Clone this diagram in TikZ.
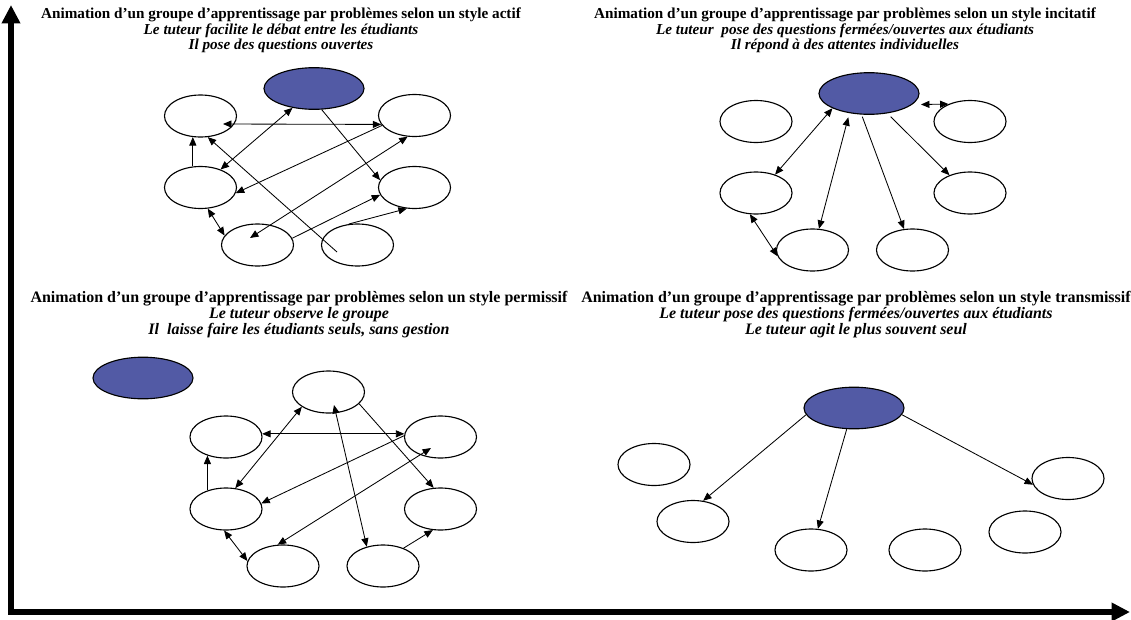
\documentclass[tikz,border=0pt]{standalone}
\usepackage{fontspec}
\setmainfont{Liberation Serif}
\usetikzlibrary{arrows.meta,shapes.geometric,calc}
\definecolor{tuteurbleu}{RGB}{82,90,165}
\tikzset{
  etudiant/.style={draw, ellipse, line width=0.8pt, minimum width=1.8cm, minimum height=1.05cm, inner sep=0pt},
  tuteur/.style={etudiant, fill=tuteurbleu, minimum width=2.5cm, minimum height=1.04cm},
  fleche/.style={line width=0.6pt},
  titrehaut/.style={align=center, inner sep=0pt, font=\bfseries\fontsize{10.8}{11}\selectfont},
  titrebas/.style={align=center, inner sep=0pt, font=\bfseries\fontsize{11.35}{11.4}\selectfont},
  axe/.style={line width=3.9pt, {Triangle[length=13pt,width=12.5pt]}-{Triangle[length=13pt,width=12.5pt]}}
}
\begin{document}
\begin{tikzpicture}[x=0.025cm, y=-0.025cm, >={Triangle[length=6pt,width=5pt]}]
    \useasboundingbox (0,0) rectangle (1131,619);

    \node[titrehaut] (titreactif) at (281,30.5) {Animation d’un groupe d’apprentissage par problèmes selon un style actif\\ \textit{Le tuteur facilite le débat entre les étudiants}\\ \textit{Il pose des questions ouvertes}};
    \node[titrehaut] (titreincitatif) at (845,30.5) {Animation d’un groupe d’apprentissage par problèmes selon un style incitatif\\ \textit{Le tuteur~ pose des questions fermées/ouvertes aux étudiants}\\ \textit{Il répond à des attentes individuelles}};
    \node[titrebas] (titrepermissif) at (299,315) {Animation d’un groupe d’apprentissage par problèmes selon un style permissif\\ \textit{Le tuteur observe le groupe}\\ \textit{Il~ laisse faire les étudiants seuls, sans gestion}};
    \node[titrebas] (titretransmissif) at (856,315) {Animation d’un groupe d’apprentissage par problèmes selon un style transmissif\\ \textit{Le tuteur pose des questions fermées/ouvertes aux étudiants}\\ \textit{Le tuteur agit le plus souvent seul}};

    \node[tuteur] (ta) at (314,88.5) {};
    \node[etudiant] (a1) at (200.5,116) {};
    \node[etudiant] (a2) at (414.5,115.5) {};
    \node[etudiant] (a3) at (200.5,187.5) {};
    \node[etudiant] (a4) at (414.5,187.5) {};
    \node[etudiant] (a5) at (257.5,245) {};
    \node[etudiant] (a6) at (357.5,245) {};

    \draw[fleche,<->] ($(a1)+(22.5,8)$) to (a2.195);
    \draw[fleche,<->] (ta.222) to (a3.42);
    \draw[fleche,->] (a2.197) to (a3.-9);
    \draw[fleche,->] (ta.290) to (a4.168);
    \draw[fleche,<->] ($(a5)+(-7.5,-7)$) to (a2.252);
    \draw[fleche,->] (a5.11) to (a4.192);
    \draw[fleche,->] (a6.113) to (a4.250);
    \draw[fleche,->] ($(a6)+(-20.5,7)$) to (a1.289);
    \draw[fleche,->] (a3.110) to (a3.110 |- a1.250);
    \draw[fleche,<->] (a3.289) to (a5.164);

    \node[tuteur] (ti) at (869,93.5) {};
    \node[etudiant] (i1) at (756,121.5) {};
    \node[etudiant] (i2) at (970,121.5) {};
    \node[etudiant] (i3) at (756,193) {};
    \node[etudiant] (i4) at (970,193) {};
    \node[etudiant] (i5) at (812.5,250) {};
    \node[etudiant] (i6) at (912.5,250) {};

    \draw[fleche,<->] ($(ti)+(52,11)$) to (i2.141);
    \draw[fleche,<->] (ti.202) to (i3.44);
    \draw[fleche,<->] ($(ti)+(-20.7,23.8)$) to (i5.73);
    \draw[fleche,->] ($(ti)+(-6.7,23.2)$) to (i6.112);
    \draw[fleche,->] ($(ti)+(21.7,23.2)$) to (i4.139);
    \draw[fleche,<->] (i3.254) to (i5.190);

    \node[tuteur] (tp) at (143,378) {};
    \node[etudiant] (p1) at (328.5,392) {};
    \node[etudiant] (p2) at (226,437) {};
    \node[etudiant] (p3) at (440.5,437) {};
    \node[etudiant] (p4) at (226,509) {};
    \node[etudiant] (p5) at (440.5,509) {};
    \node[etudiant] (p6) at (283,566) {};
    \node[etudiant] (p7) at (383,566) {};

    \draw[fleche,<->] (p2.5) to (p3.175);
    \draw[fleche,<->] (p1.209) to (p4.66);
    \draw[fleche,<->] ($(p1)+(5.5,13)$) to (p7.130);
    \draw[fleche,->] (p1.339) to (p5.108);
    \draw[fleche,->] (p3.178) to (p4.9);
    \draw[fleche,<->] ($(p3)+(-9.5,11)$) to (p6.104);
    \draw[fleche,->] (p4.135) to (p4.135 |- p2.225);
    \draw[fleche,<->] (p4.265) to (p6.172);
    \draw[fleche,->] (p7.41) to (p5.250);

    \node[tuteur] (tt) at (854,408) {};
    \node[etudiant] (t1) at (654,464.5) {};
    \node[etudiant] (t2) at (693,521.5) {};
    \node[etudiant] (t3) at (811,550) {};
    \node[etudiant] (t4) at (925,550) {};
    \node[etudiant] (t5) at (1025,532) {};
    \node[etudiant] (t6) at (1068,478.5) {};

    \draw[fleche,->] (tt.188) to (t2.64);
    \draw[fleche,->] (tt.251) to (t3.72);
    \draw[fleche,->] (tt.352) to (t6.190);

    \coordinate (origine) at (11,612);
    \coordinate (hautaxe) at (11,5);
    \coordinate (droiteaxe) at (1130,612);
    \draw[axe] (hautaxe) -- (origine) -- (droiteaxe);
\end{tikzpicture}
\end{document}
